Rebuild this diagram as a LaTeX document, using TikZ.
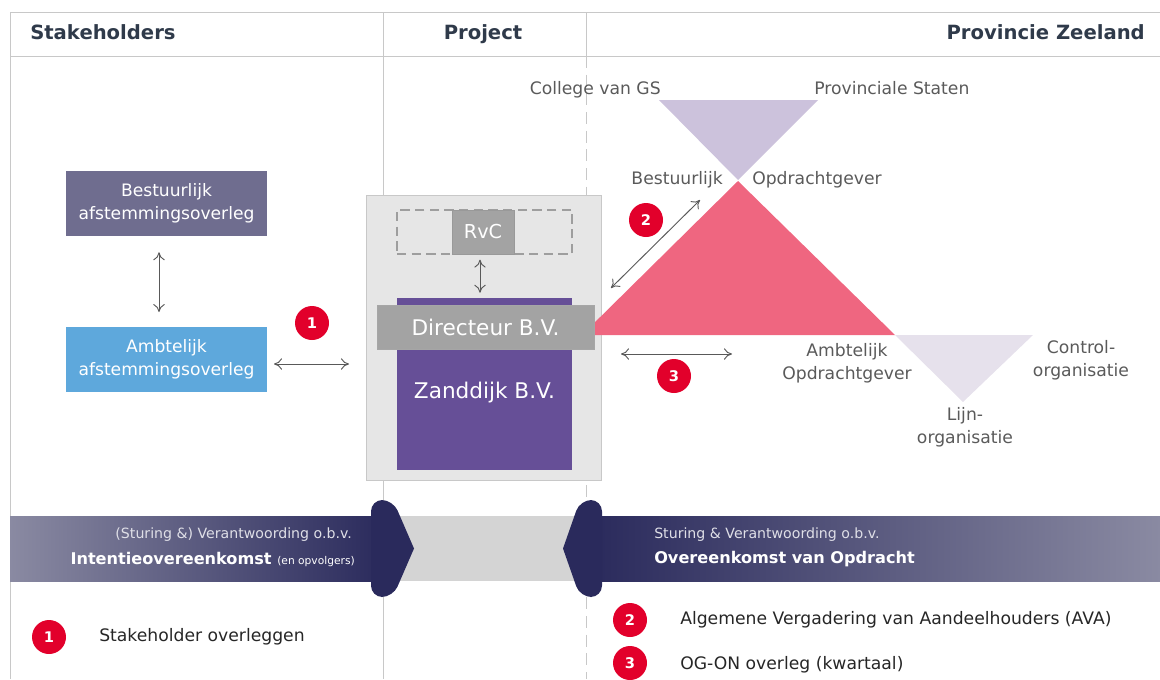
\documentclass[tikz,border=0pt]{standalone}
\usepackage{fontspec}
\setmainfont{DejaVu Sans}
\usetikzlibrary{arrows.meta,calc}
\definecolor{rulegrey}{HTML}{C8C8C8}
\definecolor{hdtext}{HTML}{2F3A4A}
\definecolor{lbl}{HTML}{5A5A5A}
\definecolor{redc}{HTML}{E2002B}
\definecolor{navy}{HTML}{2A2A5C}
\definecolor{navyl}{HTML}{8A8AA2}
\definecolor{lilac}{HTML}{CCC2DC}
\definecolor{pinkc}{HTML}{EF6680}
\definecolor{palel}{HTML}{E6E1EC}
\definecolor{contg}{HTML}{E6E6E6}
\definecolor{boxg}{HTML}{A3A3A3}
\definecolor{purp}{HTML}{664F97}
\definecolor{bluec}{HTML}{5EA8DC}
\definecolor{slate}{HTML}{6F6D8F}
\tikzset{
 hd/.style={font=\fontsize{14.7}{17}\selectfont\bfseries,text=hdtext,inner sep=0pt},
 lab/.style={font=\fontsize{12.9}{17.2}\selectfont,text=lbl,inner sep=0pt,align=center},
 badge/.style={circle,fill=redc,minimum size=25.5pt,inner sep=0pt,text=white,font=\fontsize{11}{14}\selectfont\bfseries},
 panel/.style={draw=none,text=white,inner sep=0pt,align=center,font=\fontsize{12.85}{17.5}\selectfont},
 dbl/.style={{To[length=6pt,width=8.5pt]}-{To[length=6pt,width=8.5pt]},draw=black!65,line width=.7pt},
 legend/.style={font=\fontsize{12.9}{15}\selectfont,text=black!85,inner sep=0pt,anchor=base west},
 rulel/.style={draw=rulegrey,line width=.65pt},
}
\begin{document}
\begin{tikzpicture}[x=.75pt,y=-.75pt]
\useasboundingbox (0,0) rectangle (1160,679);
% frame
\draw[rulel] (1160,12) -- (10,12) -- (10,679);
\draw[rulel] (10,56) -- (1160,56);
\draw[rulel] (383,12) -- (383,679);
\draw[rulel] (586,12) -- (586,56);
\draw[rulel,dash pattern=on 9pt off 5pt] (586,56) -- (586,679);
\node[hd,anchor=base west] (hs) at (30,39) {Stakeholders};
\node[hd,anchor=base] (hp) at (483,39) {Project};
\node[hd,anchor=base east] (hz) at (1145,39) {Provincie Zeeland};
% project container
\node[draw=rulegrey,fill=contg,line width=.6pt,minimum width=176.25pt,minimum height=213.75pt,inner sep=0pt] (cont) at (483.5,337.5) {};
% triangles
\fill[lilac] (659,100) -- (818,100) -- (738,180) -- cycle;
\fill[pinkc] (738,181) -- (582,335) -- (895,335) -- cycle;
\fill[palel] (895,335) -- (1033,335) -- (963,402) -- cycle;
% labels
\node[lab,anchor=base east] (cgs) at (661,94) {College van GS};
\node[lab,anchor=base west] (ps) at (814,94) {Provinciale Staten};
\node[lab,anchor=base east] (bes) at (723,184) {Bestuurlijk};
\node[lab,anchor=base west] (opd) at (752,184) {Opdrachtgever};
\node[lab] (ao) at (847,363) {Ambtelijk\\Opdrachtgever};
\node[lab] (ctl) at (1081,360) {Control-\\organisatie};
\node[lab] (lijn) at (965,427) {Lijn-\\organisatie};
% left boxes
\node[fill=slate,minimum width=150.75pt,minimum height=48.75pt,panel] (best) at (166.5,203.5) {Bestuurlijk\\afstemmingsoverleg};
\node[fill=bluec,minimum width=150.75pt,minimum height=48.75pt,panel] (amb) at (166.5,359.5) {Ambtelijk\\afstemmingsoverleg};
% project boxes
\node[draw=black!38,dash pattern=on 7pt off 4pt,line width=.95pt,minimum width=131.25pt,minimum height=33pt,inner sep=0pt] (dash) at (484.5,232) {};
\node[fill=boxg,draw=black!40,line width=.4pt,minimum width=46.5pt,minimum height=33pt,inner sep=0pt,text=white,font=\fontsize{14.4}{18}\selectfont] (rvc) at (483,232) {RvC};
\node[fill=purp,minimum width=131.25pt,minimum height=129pt,inner sep=0pt] (zand) at (484.5,384) {};
\node[inner sep=0pt,text=white,font=\fontsize{16.2}{18}\selectfont] (zandt) at (484.5,393) {Zanddijk B.V.};
\node[fill=boxg,draw=black!35,line width=.4pt,minimum width=162.75pt,minimum height=33pt,inner sep=0pt,text=white,font=\fontsize{16.2}{18}\selectfont] (dir) at (485.5,327) {Directeur B.V.};
% connectors
\draw[dbl,shorten <=12pt,shorten >=11pt] (best.south -| 159,0) -- (amb.north -| 159,0);
\coordinate (c1r) at (349,364);
\coordinate (c1l) at (274,364);
\draw[dbl] (c1l) -- (c1r);
\draw[dbl,shorten <=4pt,shorten >=9pt] ($(rvc.south)+(-3,0)$) -- ($(rvc.south |- dir.north)+(-3,0)$);
\coordinate (c2a) at (611,288);
\coordinate (c2b) at (700,200);
\draw[dbl] (c2a) -- (c2b);
\coordinate (c3a) at (621,354);
\coordinate (c3b) at (732,354);
\draw[dbl] (c3a) -- (c3b);
% badges
\node[badge] (b1) at (312,323) {1};
\node[badge] (b2) at (646,220) {2};
\node[badge] (b3) at (674,376) {3};
% bottom arrows
\fill[black!17] (372,516) rectangle (590,581);
\shade[left color=navyl,right color=navy] (10,516) rectangle (385,581);
\fill[navy,rounded corners=8.5pt] (371,500) -- (393,500) {[sharp corners] -- (414,548.5)} -- (393,597) -- (371,597) -- cycle;
\shade[left color=navy,right color=navyl] (590,516) rectangle (1160,581);
\fill[navy,rounded corners=8.5pt] (602,500) -- (580,500) {[sharp corners] -- (563,548.5)} -- (580,597) -- (602,597) -- cycle;
\node[inner sep=0pt,anchor=base east,text=white!85!navy,font=\fontsize{10.6}{12}\selectfont] (l1) at (352,538) {(Sturing \&) Verantwoording o.b.v.};
\node[inner sep=0pt,anchor=base east,text=white,font=\fontsize{12.1}{16}\selectfont\bfseries] (l2) at (355,564) {Intentieovereenkomst \fontsize{8}{10}\selectfont\mdseries (en opvolgers)};
\node[inner sep=0pt,anchor=base west,text=white!85!navy,font=\fontsize{10.6}{12}\selectfont] (r1) at (654,538) {Sturing \& Verantwoording o.b.v.};
\node[inner sep=0pt,anchor=base west,text=white,font=\fontsize{12.1}{16}\selectfont\bfseries] (r2) at (654,563) {Overeenkomst van Opdracht};
% legend
\node[badge] (lb1) at (49,637) {1};
\node[legend] (lt1) at (99,641) {Stakeholder overleggen};
\node[badge] (lb2) at (630,620) {2};
\node[legend] (lt2) at (680,624) {Algemene Vergadering van Aandeelhouders (AVA)};
\node[badge] (lb3) at (630,663) {3};
\node[legend] (lt3) at (680,669) {OG-ON overleg (kwartaal)};
\end{tikzpicture}
\end{document}
